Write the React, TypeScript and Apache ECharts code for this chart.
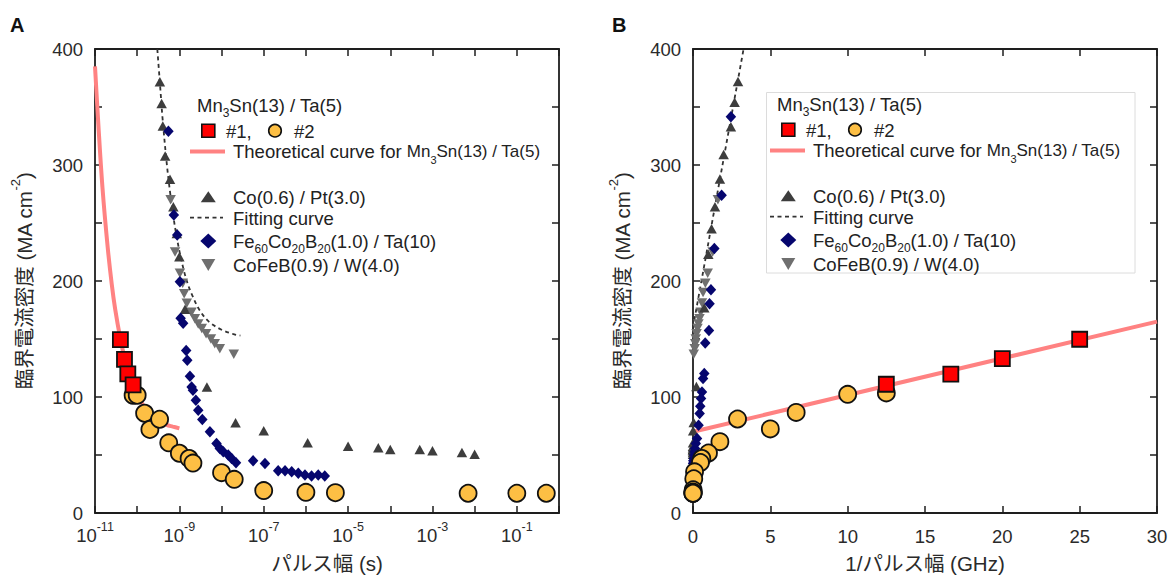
import React, { useEffect, useRef } from 'react';
import * as echarts from 'echarts';

// ---------------- Panel A : pulse width (s) vs critical current density (MA cm^-2)
const mn3snNo1A = [[4e-11, 149.5], [5e-11, 132.5], [6e-11, 120], [8e-11, 110.5]];
const mn3snNo2A = [
  [8e-11, 101.5], [1e-10, 101.5], [1.5e-10, 86], [2e-10, 72], [3.4e-10, 80.8], [5.6e-10, 60.5],
  [1e-9, 51.5], [1.7e-9, 47], [2.1e-9, 43], [1e-8, 34.8], [2e-8, 29], [1e-7, 19.3],
  [1e-6, 17.8], [5e-6, 17.5], [7e-3, 17], [0.1, 17], [0.5, 17],
];
const theoryA = [
  [1e-11, 385], [1.2e-11, 335], [1.5e-11, 281], [2e-11, 229], [2.5e-11, 197], [3e-11, 176],
  [4e-11, 150], [5e-11, 134], [6e-11, 123], [8e-11, 110], [1e-10, 102], [1.5e-10, 91],
  [2e-10, 86], [3e-10, 81], [5e-10, 76], [7e-10, 74.5], [1e-9, 73],
];
const coPtA = [
  [3.45e-10, 371.8], [3.8e-10, 353], [4.05e-10, 333.6], [4.6e-10, 307.8], [6e-10, 287.7],
  [7.2e-10, 264], [8.7e-10, 241], [1e-9, 221], [1.36e-9, 175.6], [4.5e-9, 108.6],
  [2.15e-8, 77.7], [1e-7, 70.8], [1.1e-6, 60.5], [1e-5, 57.6], [5.2e-5, 56.2], [1e-4, 54.8],
  [5e-4, 54.8], [1e-3, 53.6], [5e-3, 52.2], [1e-2, 50.7],
];
const fitA = [
  [3.0e-10, 400], [3.5e-10, 368], [4e-10, 340], [5e-10, 302], [6e-10, 277], [7e-10, 259],
  [8e-10, 245], [1e-9, 226], [1.3e-9, 208], [1.6e-9, 197], [2e-9, 188], [3e-9, 175],
  [5e-9, 165], [1e-8, 158], [2e-8, 154], [2.8e-8, 153],
];
const feCoBA = [
  [5.5e-10, 329], [7.4e-10, 257], [8.9e-10, 239.7], [1.03e-9, 199.4], [1.07e-9, 167.8],
  [1.23e-9, 163.5], [1.45e-9, 140], [1.54e-9, 131.6], [1.78e-9, 117.8], [1.95e-9, 108.6],
  [2.1e-9, 105.8], [2.46e-9, 97.2], [2.8e-9, 88.6], [3.5e-9, 80.6], [5.3e-9, 70], [7.6e-9, 60],
  [9.1e-9, 55.6], [1.1e-8, 52.7], [1.44e-8, 49.9], [1.73e-8, 47], [2.2e-8, 43.3], [5.6e-8, 45],
  [1.07e-7, 42.7], [2.2e-7, 36.4], [3.2e-7, 36.4], [4.6e-7, 35.5], [6.6e-7, 34.2], [9.5e-7, 32.7],
  [1.36e-6, 31.8], [1.96e-6, 32.7], [2.8e-6, 31.8],
];
const coFeBWA = [
  [6.2e-10, 270], [7.9e-10, 225], [1.03e-9, 206.6], [1.2e-9, 198], [1.3e-9, 189], [1.5e-9, 180.8],
  [1.94e-9, 173], [2.33e-9, 167.5], [2.8e-9, 163], [3.4e-9, 159], [4.3e-9, 154.6], [5.6e-9, 150],
  [6.9e-9, 146], [9.1e-9, 141.7], [1.95e-8, 136.8],
];

// ---------------- Panel B : 1 / pulse width (GHz)
const mn3snNo1B = [[25, 149.8], [20, 133], [16.67, 119.8], [12.5, 111]];
const mn3snNo2B = [
  [12.5, 103.5], [10, 102.3], [6.67, 86.7], [5, 72.5], [2.88, 81], [1.74, 61.5], [1.0, 51.7],
  [0.57, 47], [0.48, 43.5], [0.1, 35.5], [0.05, 29.5], [0.01, 20], [0.001, 18], [0.0002, 17.5],
  [1.4e-7, 17], [1e-8, 17], [2e-9, 17],
];
const theoryB = [[0, 70], [30, 165]];
const coPtB = [
  [2.91, 372], [2.69, 354], [2.45, 333], [1.98, 309], [1.74, 288], [1.42, 264], [1.2, 245],
  [0.99, 223], [0.73, 177], [0.22, 109], [0.046, 78], [0.01, 71], [0.0009, 60.5], [0.0001, 57.6],
  [0.00002, 56.2], [0.00001, 54.8], [0.000002, 54.8], [0.000001, 53.6], [2e-7, 52.2], [1e-7, 50.7],
];
const fitB = [[0, 160], [3.27, 400]];
const feCoBB = [
  [2.45, 341.5], [1.85, 274], [1.38, 228], [1.16, 192.4], [1.07, 180.4], [1.03, 157.4],
  [0.79, 146.5], [0.73, 120.2], [0.65, 115.9], [0.58, 104.4], [0.52, 98.6], [0.47, 92],
  [0.43, 85.8], [0.36, 75.7], [0.26, 64.3], [0.18, 60], [0.13, 55.6], [0.1, 52.7], [0.08, 49.9],
  [0.06, 47], [0.045, 43.3], [0.018, 45], [0.009, 42.7], [0.0045, 36.4], [0.003, 36.4],
  [0.002, 35.5], [0.0015, 34.2], [0.001, 32.7], [0.0007, 31.8], [0.0005, 32.7], [0.00035, 31.8],
];
const coFeBWB = [
  [1.61, 270], [1.27, 225], [0.95, 206.6], [0.8, 198], [0.65, 190], [0.58, 181], [0.5, 173],
  [0.42, 167.5], [0.35, 163], [0.29, 159], [0.23, 154.6], [0.18, 150], [0.145, 146], [0.11, 141.7],
  [0.05, 136.8],
];

// ---------------- ticks
const logTicksA = [1e-11, 1e-10, 1e-9, 1e-8, 1e-7, 1e-6, 1e-5, 1e-4, 1e-3, 1e-2, 1e-1, 1];
const logLabelsA = [1e-11, 1e-9, 1e-7, 1e-5, 1e-3, 1e-1];

const FONT = "'Liberation Sans', Arial, 'Noto Sans CJK JP', sans-serif";
const TXT = '#2a2a2a';
const AX = '#1e1e1e';

const C_RED = '#ff0000';
const C_ORANGE = '#fdbf44';
const C_PINK = '#ff8282';
const C_DARK = '#3d3d3d';
const C_NAVY = '#06066e';
const C_GRAY = '#6f6f6f';

const TICK_FS = 18.5;
const LEG_FS = 18.5;
const TITLE_FS = 20.5;

const supRich = {
  b: { fontSize: TICK_FS, lineHeight: 28, color: TXT, fontFamily: FONT },
  sup: { fontSize: 12.5, lineHeight: 14, verticalAlign: 'top', color: TXT, fontFamily: FONT },
};

function App() {
  const ref = useRef<HTMLDivElement>(null);
  useEffect(() => {
    document.body.style.margin = '0';
    const chart = echarts.init(ref.current!, null, { renderer: 'svg' });

    const axisLine = { show: true, onZero: false, lineStyle: { color: AX, width: 1.8 } };
    const axisTick = { show: true, inside: true, length: 7, lineStyle: { color: AX, width: 1.5 } };

    const yName = '臨界電流密度 (MA cm{sup|-2})';
    const yNameStyle = {
      fontSize: TITLE_FS, color: TXT, fontFamily: FONT, lineHeight: 30,
      rich: { sup: { fontSize: 13, lineHeight: 15, verticalAlign: 'top', color: TXT, fontFamily: FONT } },
    };

    const yAxes = (gridIndex: number) => [
      {
        gridIndex, type: 'value', min: 0, max: 400, interval: 50, position: 'left',
        axisLine, axisTick, splitLine: { show: false },
        axisLabel: {
          show: true, margin: 12, fontSize: TICK_FS, color: TXT, fontFamily: FONT,
          formatter: (v: number) => (v % 100 === 0 ? String(v) : ''),
        },
        name: yName, nameLocation: 'middle', nameGap: 56, nameTextStyle: yNameStyle,
      },
      {
        gridIndex, type: 'value', min: 0, max: 400, interval: 50, position: 'right',
        axisLine, axisTick, splitLine: { show: false }, axisLabel: { show: false },
      },
    ];

    const scatter = (name: string, data: number[][], idx: number, symbol: string, size: any, color: string, extra: any = {}) => ({
      name, type: 'scatter', data, xAxisIndex: idx * 2, yAxisIndex: idx * 2, symbol, symbolSize: size,
      itemStyle: { color, opacity: 1, ...(extra.itemStyle || {}) }, silent: true,
      symbolRotate: extra.rotate || 0, z: extra.z || 2,
    });
    const line = (name: string, data: number[][], idx: number, style: any, smooth: any, z: number) => ({
      name, type: 'line', data, xAxisIndex: idx * 2, yAxisIndex: idx * 2, showSymbol: false, symbol: 'none',
      smooth, lineStyle: style, silent: true, z,
    });

    const seriesFor = (idx: number, d: any) => [
      line('Theoretical curve', d.theory, idx, { color: C_PINK, width: 4 }, idx === 0 ? 0.35 : false, 1),
      line('Fitting curve', d.fit, idx, { color: '#333', width: 1.8, type: [4, 3.5] }, idx === 0 ? 0.35 : false, 1),
      scatter('CoFeB(0.9) / W(4.0)', d.cofebw, idx, 'triangle', [10.5, 9.5], C_GRAY, { rotate: 180, z: 2 }),
      scatter('Co(0.6) / Pt(3.0)', d.copt, idx, 'triangle', [10.5, 9.5], C_DARK, { z: 3 }),
      scatter('Fe60Co20B20(1.0) / Ta(10)', d.fecob, idx, 'diamond', [10.5, 11.5], C_NAVY, { z: 4 }),
      scatter('#2', d.no2, idx, 'circle', 17, C_ORANGE, { z: 5, itemStyle: { borderColor: '#111', borderWidth: 1.8 } }),
      scatter('#1', d.no1, idx, 'rect', 15, C_RED, { z: 6, itemStyle: { borderColor: '#111', borderWidth: 1.8 } }),
    ];

    // ---------- legend built from graphic elements
    const legend = (dx: number, dy: number, boxed: boolean) => {
      const t = (x: number, y: number, text: string, rich?: any) => ({
        type: 'text', x: x + dx, y: y + dy, z: 100,
        style: {
          text, fill: '#222', fontSize: LEG_FS, fontFamily: FONT, lineHeight: 28,
          verticalAlign: 'middle', textVerticalAlign: 'middle', align: 'left', rich,
        },
      });
      const subRich = {
        n: { fontSize: LEG_FS, lineHeight: 28, verticalAlign: 'middle', fill: '#222', color: '#222', fontFamily: FONT },
        s: { fontSize: 12, lineHeight: 18, verticalAlign: 'bottom', fill: '#222', color: '#222', fontFamily: FONT },
        m: { fontSize: 17, lineHeight: 28, verticalAlign: 'middle', fill: '#222', color: '#222', fontFamily: FONT },
        ms: { fontSize: 11, lineHeight: 18, verticalAlign: 'bottom', fill: '#222', color: '#222', fontFamily: FONT },
      };
      const els: any[] = [];
      if (boxed) {
        els.push({
          type: 'rect', z: 99, shape: { x: 766.5, y: 92.5, width: 368.5, height: 180.5 },
          style: { fill: '#fff', stroke: '#dcdcdc', lineWidth: 1 },
        });
      }
      els.push(t(197, 105, '{n|Mn}{s|3}{n|Sn(13) / Ta(5)}', subRich));
      els.push({
        type: 'rect', z: 100, shape: { x: 201.8 + dx, y: 124.2 + dy, width: 13, height: 13 },
        style: { fill: C_RED, stroke: '#111', lineWidth: 1.6 },
      });
      els.push(t(226, 131, '#1,'));
      els.push({
        type: 'circle', z: 100, shape: { cx: 275 + dx, cy: 130.7 + dy, r: 6.3 },
        style: { fill: C_ORANGE, stroke: '#111', lineWidth: 1.6 },
      });
      els.push(t(294, 131, '#2'));
      els.push({
        type: 'line', z: 100, shape: { x1: 190 + dx, y1: 151.5 + dy, x2: 225 + dx, y2: 151.5 + dy },
        style: { stroke: C_PINK, lineWidth: 4 },
      });
      els.push(t(233, 151.5, '{n|Theoretical curve for }{m|Mn}{ms|3}{m|Sn(13) / Ta(5)}', subRich));
      els.push({
        type: 'polygon', z: 100,
        shape: { points: [[200.8 + dx, 202.2 + dy], [215.8 + dx, 202.2 + dy], [208.3 + dx, 191.2 + dy]] },
        style: { fill: C_DARK },
      });
      els.push(t(233, 197, 'Co(0.6) / Pt(3.0)'));
      els.push({
        type: 'line', z: 100, shape: { x1: 190 + dx, y1: 217.7 + dy, x2: 223 + dx, y2: 217.7 + dy },
        style: { stroke: '#333', lineWidth: 1.8, lineDash: [4, 3.5] },
      });
      els.push(t(233, 218, 'Fitting curve'));
      els.push({
        type: 'polygon', z: 100,
        shape: { points: [[208.3 + dx, 233.5 + dy], [216.3 + dx, 241 + dy], [208.3 + dx, 248.5 + dy], [200.3 + dx, 241 + dy]] },
        style: { fill: C_NAVY },
      });
      els.push(t(233, 241.5, '{n|Fe}{s|60}{n|Co}{s|20}{n|B}{s|20}{n|(1.0) / Ta(10)}', subRich));
      els.push({
        type: 'polygon', z: 100,
        shape: { points: [[201.3 + dx, 259 + dy], [215.3 + dx, 259 + dy], [208.3 + dx, 271 + dy]] },
        style: { fill: C_GRAY },
      });
      els.push(t(233, 265, 'CoFeB(0.9) / W(4.0)'));
      return els;
    };

    const panelLabel = (x: number, text: string) => ({
      type: 'text', x, y: 25, z: 100,
      style: { text, fill: '#111', fontSize: 20, fontWeight: 'bold', fontFamily: FONT, verticalAlign: 'middle', textVerticalAlign: 'middle' },
    });

    const option: any = {
      animation: false,
      backgroundColor: '#fff',
      grid: [
        { left: 95, top: 49, width: 464, height: 464, containLabel: false, outerBoundsMode: 'none' },
        { left: 693, top: 49, width: 464, height: 464, containLabel: false, outerBoundsMode: 'none' },
      ],
      xAxis: [
        {
          gridIndex: 0, type: 'log', logBase: 10, min: 1e-11, max: 1, position: 'bottom',
          axisLine, axisTick: { ...axisTick, customValues: logTicksA }, splitLine: { show: false },
          minorTick: { show: false },
          axisLabel: {
            show: true, margin: 8, customValues: logLabelsA, rich: supRich, hideOverlap: false,
            formatter: (v: number) => '{b|10}{sup|' + Math.round(Math.log10(v)) + '}',
          },
          name: 'パルス幅 (s)', nameLocation: 'middle', nameGap: 40,
          nameTextStyle: { fontSize: TITLE_FS, color: TXT, fontFamily: FONT },
        },
        {
          gridIndex: 0, type: 'log', logBase: 10, min: 1e-11, max: 1, position: 'top',
          axisLine, axisTick: { ...axisTick, customValues: logTicksA }, splitLine: { show: false },
          minorTick: { show: false }, axisLabel: { show: false },
        },
        {
          gridIndex: 1, type: 'value', min: 0, max: 30, interval: 5, position: 'bottom',
          axisLine, axisTick, splitLine: { show: false },
          axisLabel: { show: true, margin: 14, fontSize: TICK_FS, color: TXT, fontFamily: FONT },
          name: '1/パルス幅 (GHz)', nameLocation: 'middle', nameGap: 40,
          nameTextStyle: { fontSize: TITLE_FS, color: TXT, fontFamily: FONT },
        },
        {
          gridIndex: 1, type: 'value', min: 0, max: 30, interval: 5, position: 'top',
          axisLine, axisTick, splitLine: { show: false }, axisLabel: { show: false },
        },
      ],
      yAxis: [...yAxes(0), ...yAxes(1)],
      series: [
        ...seriesFor(0, { theory: theoryA, fit: fitA, cofebw: coFeBWA, copt: coPtA, fecob: feCoBA, no2: mn3snNo2A, no1: mn3snNo1A }),
        ...seriesFor(1, { theory: theoryB, fit: fitB, cofebw: coFeBWB, copt: coPtB, fecob: feCoBB, no2: mn3snNo2B, no1: mn3snNo1B }),
      ],
      graphic: [
        panelLabel(10, 'A'),
        panelLabel(612, 'B'),
        ...legend(0, 0, false),
        ...legend(580, -1, true),
      ],
    };
    chart.setOption(option);
    return () => chart.dispose();
  }, []);
  return <div ref={ref} style={{ width: 1169, height: 576 }} />;
}

export default App;
